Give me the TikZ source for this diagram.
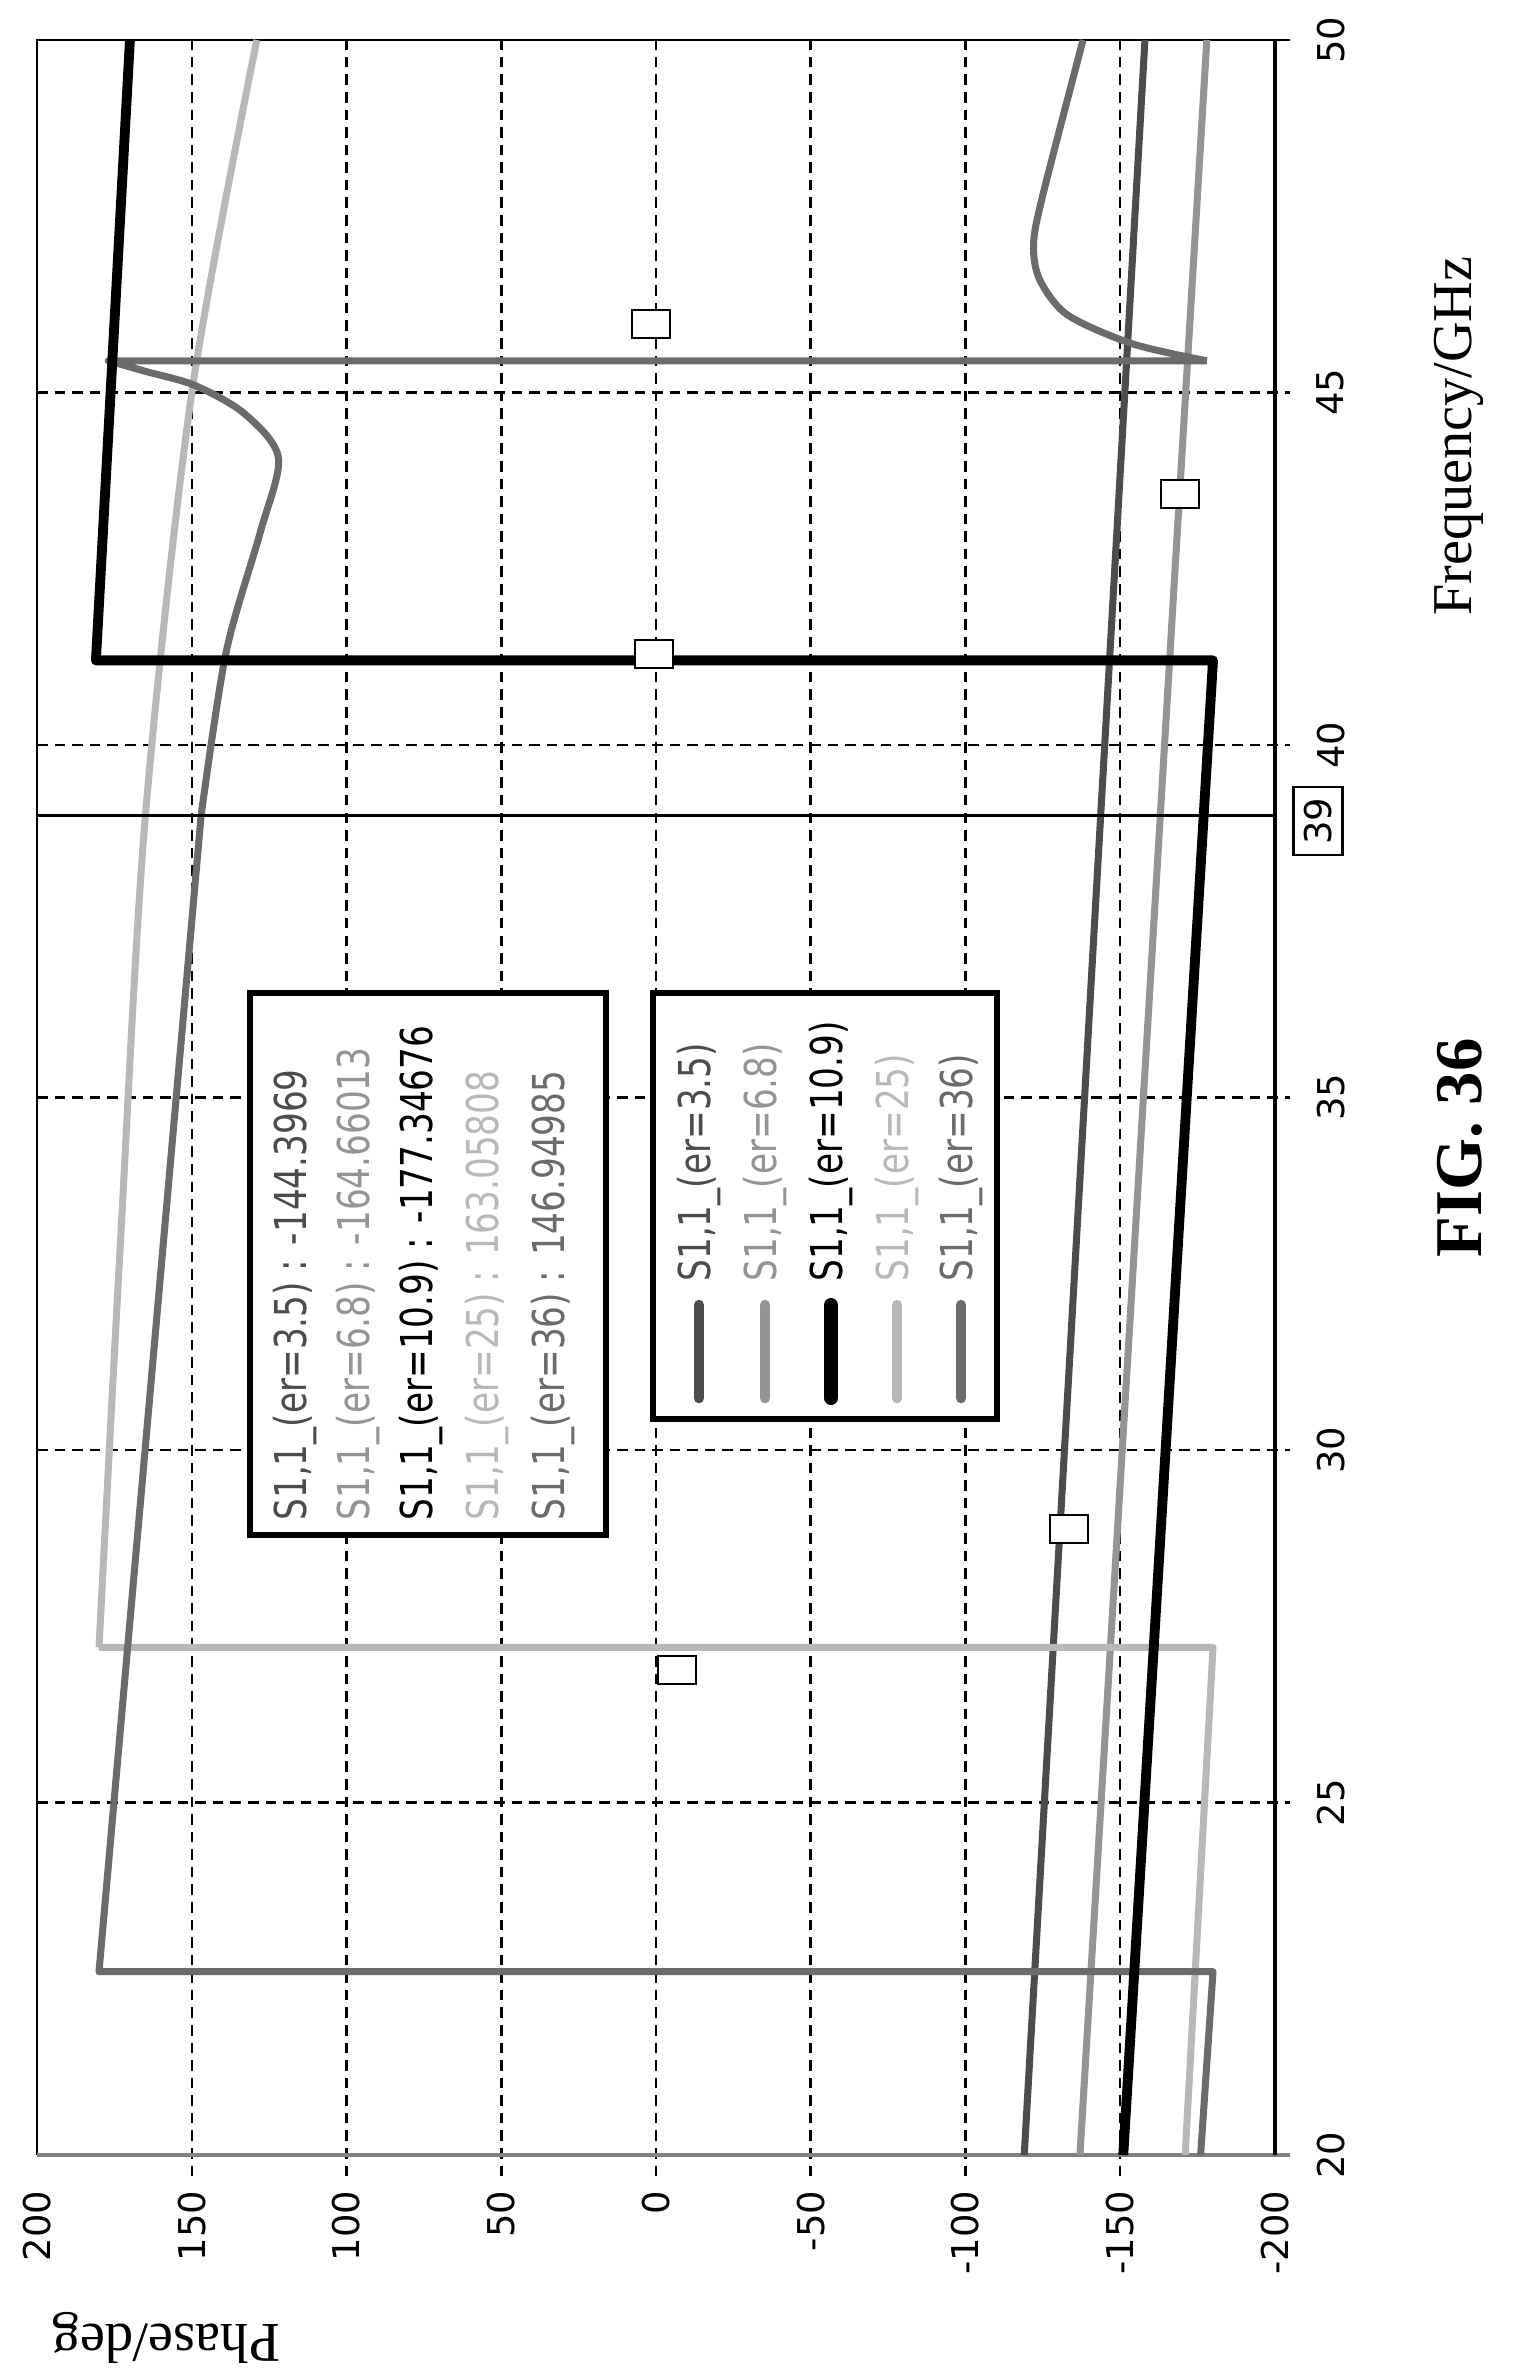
\documentclass[tikz,border=0pt]{standalone}
\usepackage{fontspec}
\setmainfont{Liberation Serif}
\newfontfamily\plotfont{DejaVu Sans}
\definecolor{gdark}{gray}{0.30}
\definecolor{gmid}{gray}{0.58}
\definecolor{glight}{gray}{0.72}
\definecolor{gwave}{gray}{0.42}
\tikzset{
  gridline/.style={densely dashed,line width=0.7pt},
  curve/.style={line width=2pt,line join=round},
  ticklab/.style={font=\plotfont\fontsize{10.5}{12}\selectfont,rotate=90,inner sep=0pt},
  legtxt/.style={font=\plotfont\fontsize{12.5}{14}\selectfont,rotate=90,xscale=0.78,anchor=west,inner sep=0pt},
  legbox/.style={draw,line width=1.6pt,fill=white},
  marker/.style={draw,line width=0.5pt,minimum width=0.38cm,minimum height=0.28cm,inner sep=0pt,fill=white},
}
\begin{document}
\begin{tikzpicture}
\useasboundingbox (0,0) rectangle (15.21,-23.80);
% phase/frequency plane, turned a quarter
\begin{scope}[shift={(6.56,-35.65)},x={(0cm,0.705cm)},y={(-0.03095cm,0cm)}]
\foreach \f in {25,30,...,45}
  \draw[gridline] (\f,200) -- (\f,-205);
\foreach \p in {-150,-100,...,150}
  \draw[gridline] (19.7,\p) -- (50,\p);
\draw[line width=0.6pt] (20,200) -- (50,200) -- (50,-205);
\draw[line width=1.2pt,gray] (20,200) -- (20,-205);
\draw[line width=1pt] (20,-200) -- (50,-200);
% curves
\draw[curve,gdark] (20,-119) -- (50,-158);
\draw[curve,gmid] (20,-137) -- (50,-178);
\draw[curve,glight] (20,-171) -- (27.2,-180) -- (27.2,180)
  plot[smooth] coordinates {(27.2,180) (33,173) (39,165) (45,150) (50,129)};
\draw[curve,gwave] (20,-176) -- (22.6,-180) -- (22.6,180) -- (39,147)
  plot[smooth] coordinates {(39,147) (41.3,139) (43,128) (44.07,122) (44.7,133) (45.1,149) (45.3,165) (45.45,177)}
  -- (45.45,-178)
  plot[smooth] coordinates {(45.45,-178) (45.69,-154) (46.1,-133) (46.6,-124) (47.1,-122) (47.8,-125) (50,-138)};
\draw[curve,black,line width=2.8pt] (20,-151) -- (41.2,-180) -- (41.2,181) -- (50,170);
\draw[line width=1pt] (39,200) -- (39,-200);
% axis labels
\foreach \p in {-200,-150,...,200}
  \node[ticklab,anchor=east] (ph\p) at (19.5,\p) {\p};
\foreach \f in {20,25,...,50}
  \node[ticklab] (fq\f) at (\f,-218) {\f};
\end{scope}
\node[draw,line width=0.6pt,rotate=90,inner sep=3pt,font=\plotfont\fontsize{10.5}{12}\selectfont] (cur) at (13.18,-8.21) {39};
\node[font=\fontsize{16}{18}\selectfont,rotate=90] (xlab) at (14.59,-4.36) {Frequency/GHz};
\node[font=\fontsize{16}{18}\selectfont,rotate=180] (ylab) at (1.66,-23.38) {Phase/deg};
\node[font=\bfseries\fontsize{19}{22}\selectfont,rotate=90] (fig) at (14.60,-11.48) {FIG. 36};
% markers
\foreach \mx/\my [count=\i] in {6.51/3.24,6.54/6.54,11.80/4.94,10.69/15.29,6.77/16.70}
  \node[marker] (m\i) at (\mx,-\my) {};
% value box
\draw[legbox] (2.50,-9.93) rectangle (6.06,-15.35);
\node[legtxt,gdark] (v1) at (2.95,-15.21) {S1,1\_(er=3.5) : -144.3969};
\node[legtxt,gmid] (v2) at (3.58,-15.21) {S1,1\_(er=6.8) : -164.66013};
\node[legtxt,black] (v3) at (4.21,-15.21) {S1,1\_(er=10.9) : -177.34676};
\node[legtxt,glight] (v4) at (4.87,-15.21) {S1,1\_(er=25) : 163.05808};
\node[legtxt,gwave] (v5) at (5.53,-15.21) {S1,1\_(er=36) : 146.94985};
% key box
\draw[legbox] (6.53,-9.93) rectangle (9.97,-14.19);
\foreach \kx/\kc/\kt/\kw [count=\i] in {6.99/gdark/3.5/3pt,7.65/gmid/6.8/3pt,8.31/black/10.9/4pt,8.97/glight/25/3pt,9.61/gwave/36/3pt}{
  \draw[\kc,line width=\kw,line cap=round] (\kx,-13.05) -- (\kx,-13.98);
  \node[legtxt,\kc] (k\i) at (\kx,-12.82) {S1,1\_(er=\kt)};
}
\end{tikzpicture}
\end{document}
